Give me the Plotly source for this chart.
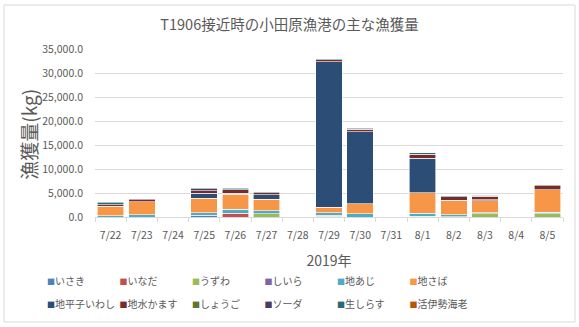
import plotly.graph_objects as go

# 日付（カテゴリ）
dates = ["7/22", "7/23", "7/24", "7/25", "7/26", "7/27", "7/28", "7/29",
         "7/30", "7/31", "8/1", "8/2", "8/3", "8/4", "8/5"]

# 魚種別の漁獲量 (kg)。水揚げのない日は None
isaki      = [None, None, None, 410, None, None, None, 150, None, None, None, None, None, None, None]
inada      = [None, None, None, None, 830, None, None, 200, None, None, None, None, None, None, None]
uzuwa      = [None, None, None, None, None, 690, None, None, None, None, 200, 100, 700, None, 690]
shiira     = [None, None, None, None, None, None, None, None, None, None, None, None, None, None, None]
ji_aji     = [300, 450, None, 480, 830, 620, None, 550, 690, None, 620, 350, 150, None, 280]
ji_saba    = [1900, 2750, None, 2970, 3100, 2410, None, 1170, 2100, None, 4280, 2900, 2550, None, 4690]
ji_iwashi  = [None, None, None, 1100, 150, 900, None, 30300, 15000, None, 7100, 150, 200, None, None]
ji_kamasu  = [350, 450, None, 550, 760, 480, None, 400, 480, None, 830, 700, 700, None, 970]
shougo     = [None, None, None, None, None, None, None, None, None, None, None, None, None, None, None]
souda      = [None, None, None, 400, None, None, None, None, None, None, None, None, 200, None, None]
nama_shirasu = [550, None, None, 150, 280, 200, None, 200, 200, None, 400, 200, 100, None, None]
ise_ebi    = [None, None, None, None, None, None, None, None, None, None, None, None, None, None, None]

series_names = ["いさき", "いなだ", "うずわ", "しいら", "地あじ", "地さば",
                "地平子いわし", "地水かます", "しょうご", "ソーダ", "生しらす", "活伊勢海老"]
series_values = [isaki, inada, uzuwa, shiira, ji_aji, ji_saba,
                 ji_iwashi, ji_kamasu, shougo, souda, nama_shirasu, ise_ebi]
colors = ["#4F81BD", "#C0504D", "#9BBB59", "#8064A2", "#4BACC6", "#F79646",
          "#2C4D75", "#772C2A", "#5F7530", "#4D3B62", "#276A7C", "#B65708"]

y_ticks = [0, 5000, 10000, 15000, 20000, 25000, 30000, 35000]

FONT = "Noto Sans CJK JP"
GRAY = "#595959"

# legend laid out as 6 columns x 2 rows: one small vertical legend per column
legend_ids = ["legend", "legend2", "legend3", "legend4", "legend5", "legend6"]

fig = go.Figure()
for i, (name, vals, col) in enumerate(zip(series_names, series_values, colors)):
    fig.add_trace(go.Bar(
        x=dates, y=vals, name=name, showlegend=False, legendgroup=name,
        marker=dict(color=col, line=dict(color="white", width=0.6)),
    ))
    # legend entry: a small coloured square placed tight against the label
    fig.add_trace(go.Scatter(
        x=[None], y=[None], mode="markers", legendgroup=name,
        legend=legend_ids[i % 6],
        name=f"<span style='color:{col};font-size:8px'>■</span>{name}",
        marker=dict(size=1, color="rgba(0,0,0,0)"),
    ))

# columns are 72.5px apart, starting 7px from the figure edge (plot is 468px wide)
legends = {}
for k, lid in enumerate(legend_ids):
    legends[lid] = dict(orientation="v", x=(7 + 72.5 * k - 95) / 468, xanchor="left",
                        y=-0.298, yanchor="top",
                        font=dict(size=10, color=GRAY),
                        traceorder="grouped", tracegroupgap=4,
                        bgcolor="rgba(0,0,0,0)")

fig.update_layout(
    width=579, height=327,
    margin=dict(l=95, r=16, t=49, b=110, autoexpand=False),
    paper_bgcolor="white", plot_bgcolor="white",
    barmode="stack", bargap=0.15,
    font=dict(family=FONT, color=GRAY, size=10),
    title=dict(text="T1906接近時の小田原漁港の主な漁獲量", x=0.5, xanchor="center",
               y=0.925, yanchor="middle", font=dict(size=14.5, color=GRAY)),
    **legends,
    xaxis=dict(type="category", categoryorder="array", categoryarray=dates,
               showline=True, linecolor="#D9D9D9", linewidth=1,
               ticks="outside", tickson="boundaries", ticklen=4, tickcolor="#D9D9D9",
               tickfont=dict(size=10.5, color=GRAY), ticklabelstandoff=8, showgrid=False,
               title=dict(text="2019年", font=dict(size=14, color=GRAY), standoff=15)),
    yaxis=dict(range=[0, 35000], tickvals=y_ticks, tickformat=",.1f",
               showgrid=True, gridcolor="#D9D9D9", gridwidth=1, zeroline=False,
               tickfont=dict(size=10.5, color=GRAY), ticklabelstandoff=11),
    annotations=[dict(text="漁獲量(kg)", textangle=-90, xref="paper", yref="paper",
                      x=(29 - 95) / 468, y=0.49, xanchor="center", yanchor="middle",
                      showarrow=False, font=dict(size=19, color=GRAY))],
    shapes=[dict(type="rect", xref="paper", yref="paper",
                 x0=-0.1944, x1=1.0256, y0=-0.625, y1=1.262,
                 line=dict(color="#D9D9D9", width=1), fillcolor="rgba(0,0,0,0)",
                 layer="below")],
)

fig.write_html("out.html")
